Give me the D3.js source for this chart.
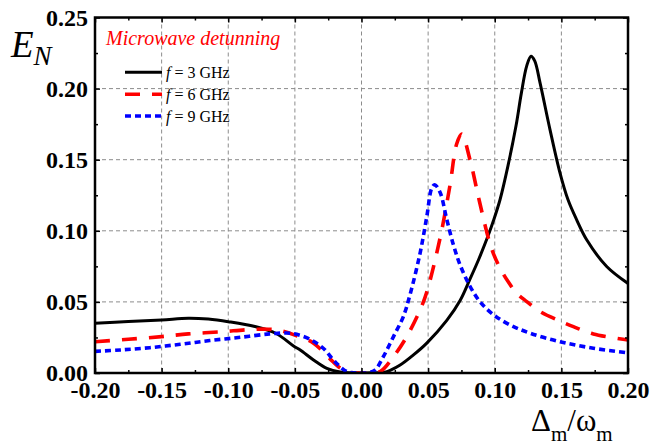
<!DOCTYPE html>
<html>
<head>
<meta charset="utf-8">
<script src="https://cdn.jsdelivr.net/npm/d3@7/dist/d3.min.js"></script>
<style>
  html, body { margin: 0; padding: 0; background: #fff; }
  svg { display: block; }
</style>
</head>
<body>
<svg id="chart" width="663" height="445"></svg>
<script>
// Entanglement E_N versus normalized magnon detuning for three microwave frequencies

const xTickValues = [-0.20, -0.15, -0.10, -0.05, 0.00, 0.05, 0.10, 0.15, 0.20];
const xTickLabels = ["-0.20", "-0.15", "-0.10", "-0.05", "0.00", "0.05", "0.10", "0.15", "0.20"];
const yTickValues = [0.00, 0.05, 0.10, 0.15, 0.20, 0.25];
const yTickLabels = ["0.00", "0.05", "0.10", "0.15", "0.20", "0.25"];
const xMinorTicks = [-0.175, -0.125, -0.075, -0.025, 0.025, 0.075, 0.125, 0.175];
const yMinorTicks = [0.025, 0.075, 0.125, 0.175, 0.225];

const seriesNames = ["f = 3 GHz", "f = 6 GHz", "f = 9 GHz"];

// f = 3 GHz
const x3 = [-0.200, -0.175, -0.150, -0.130, -0.115, -0.100, -0.080, -0.064, -0.051, -0.046, -0.036, -0.026, -0.016, -0.008, 0.000, 0.008, 0.019, 0.029, 0.039, 0.049, 0.064, 0.074, 0.0814, 0.088, 0.0952, 0.099, 0.104, 0.110, 0.116, 0.120, 0.124, 0.1272, 0.130, 0.134, 0.1415, 0.149, 0.155, 0.1615, 0.169, 0.184, 0.200];
const y3 = [0.0350, 0.0362, 0.0373, 0.0385, 0.0379, 0.0361, 0.0327, 0.0278, 0.0190, 0.0162, 0.0092, 0.0033, 0.0007, 0.0001, 0.0000, 0.0001, 0.0010, 0.0056, 0.0127, 0.0210, 0.0370, 0.0510, 0.0660, 0.0800, 0.0970, 0.1070, 0.1220, 0.1460, 0.1740, 0.1970, 0.2160, 0.2228, 0.2195, 0.2040, 0.1710, 0.1406, 0.1218, 0.1077, 0.0937, 0.0749, 0.0630];

// f = 6 GHz
const x6 = [-0.200, -0.175, -0.150, -0.130, -0.105, -0.085, -0.070, -0.061, -0.050, -0.036, -0.024, -0.016, -0.008, 0.000, 0.007, 0.014, 0.024, 0.034, 0.044, 0.049, 0.059, 0.0664, 0.0714, 0.0752, 0.0814, 0.0877, 0.0927, 0.0952, 0.099, 0.104, 0.110, 0.1165, 0.124, 0.134, 0.149, 0.159, 0.174, 0.200];
const y6 = [0.0220, 0.0237, 0.0256, 0.0275, 0.0290, 0.0305, 0.0308, 0.0298, 0.0266, 0.0210, 0.0103, 0.0035, 0.0005, 0.0000, 0.0002, 0.0010, 0.0115, 0.0256, 0.0444, 0.0570, 0.0950, 0.1320, 0.1610, 0.1680, 0.1500, 0.1240, 0.1040, 0.0950, 0.0840, 0.0737, 0.0643, 0.0561, 0.0502, 0.0432, 0.0365, 0.0326, 0.0275, 0.0232];

// f = 9 GHz
const x9 = [-0.200, -0.181, -0.159, -0.136, -0.114, -0.091, -0.069, -0.056, -0.0486, -0.0386, -0.0287, -0.020, -0.011, -0.005, 0.000, 0.005, 0.0101, 0.0164, 0.024, 0.0314, 0.0364, 0.0439, 0.049, 0.0527, 0.055, 0.059, 0.064, 0.069, 0.074, 0.0814, 0.089, 0.099, 0.1115, 0.1265, 0.149, 0.174, 0.200];
const y9 = [0.0152, 0.0162, 0.0178, 0.0202, 0.0228, 0.0251, 0.0275, 0.0281, 0.0272, 0.0237, 0.0174, 0.0080, 0.0010, 0.0001, 0.0000, 0.0002, 0.0020, 0.0115, 0.0256, 0.0397, 0.0550, 0.0840, 0.1100, 0.1300, 0.1324, 0.1270, 0.1080, 0.0900, 0.0760, 0.0610, 0.0500, 0.0410, 0.0338, 0.0280, 0.0220, 0.0174, 0.0142];

const seriesX = [x3, x6, x9];
const seriesY = [y3, y6, y9];
const seriesColor = ["#000000", "#ff0000", "#0000ff"];
const seriesDash = [null, "15,12", "6,4"];
const seriesWidth = [3, 3.6, 3.6];

const W = 663, H = 445;
const margin = { left: 95, right: 35, top: 17.5, bottom: 72 };
const plotW = W - margin.left - margin.right;
const plotH = H - margin.top - margin.bottom;

const svg = d3.select("#chart");
svg.append("rect").attr("width", W).attr("height", H).attr("fill", "#fff");

const x = d3.scaleLinear().domain([-0.2, 0.2]).range([0, plotW]);
const y = d3.scaleLinear().domain([0, 0.25]).range([plotH, 0]);

const g = svg.append("g").attr("transform", `translate(${margin.left},${margin.top})`);

// dashed grid at the major ticks
const grid = g.append("g").attr("stroke", "#8c8c8c").attr("stroke-width", 1).attr("stroke-dasharray", "4,3");
grid.selectAll("line.v").data(xTickValues.slice(1, -1)).join("line")
  .attr("x1", d => x(d)).attr("x2", d => x(d)).attr("y1", 0).attr("y2", plotH);
grid.selectAll("line.h").data(yTickValues.slice(1, -1)).join("line")
  .attr("y1", d => y(d)).attr("y2", d => y(d)).attr("x1", 0).attr("x2", plotW);

// curves
g.append("clipPath").attr("id", "plotclip").append("rect")
  .attr("width", plotW).attr("height", plotH);
const line = d3.line().x(d => x(d[0])).y(d => y(Math.max(0, d[1])))
  .curve(d3.curveCatmullRom.alpha(0.5));
seriesX.forEach((xs, i) => {
  const pts = xs.map((v, k) => [v, seriesY[i][k]]);
  g.append("path")
    .attr("d", line(pts))
    .attr("fill", "none")
    .attr("stroke", seriesColor[i])
    .attr("stroke-width", seriesWidth[i])
    .attr("stroke-dasharray", seriesDash[i])
    .attr("stroke-linejoin", "round")
    .attr("clip-path", "url(#plotclip)");
});

// axes with inward ticks on all four sides
const serif = "'Liberation Serif', 'Times New Roman', serif";
function styleAxis(sel) {
  sel.select(".domain").remove();
  sel.selectAll(".tick line").attr("stroke", "#000").attr("stroke-width", 1.5);
}
const bottom = g.append("g").attr("transform", `translate(0,${plotH})`)
  .call(d3.axisBottom(x).tickValues(xTickValues).tickSize(-5).tickPadding(8)
    .tickFormat((d, i) => xTickLabels[i]));
styleAxis(bottom);
bottom.selectAll("text").attr("font-family", serif).attr("font-weight", "bold")
  .attr("font-size", 24).attr("fill", "#000");
g.append("g").attr("transform", `translate(0,${plotH})`)
  .call(d3.axisBottom(x).tickValues(xMinorTicks).tickSize(-3).tickFormat(""))
  .call(styleAxis);
g.append("g").call(d3.axisTop(x).tickValues(xTickValues).tickSize(-5).tickFormat("")).call(styleAxis);
g.append("g").call(d3.axisTop(x).tickValues(xMinorTicks).tickSize(-3).tickFormat("")).call(styleAxis);

const left = g.append("g")
  .call(d3.axisLeft(y).tickValues(yTickValues).tickSize(-5).tickPadding(7)
    .tickFormat((d, i) => yTickLabels[i]));
styleAxis(left);
left.selectAll("text").attr("font-family", serif).attr("font-weight", "bold")
  .attr("font-size", 24).attr("fill", "#000");
g.append("g").call(d3.axisLeft(y).tickValues(yMinorTicks).tickSize(-3).tickFormat("")).call(styleAxis);
g.append("g").attr("transform", `translate(${plotW},0)`)
  .call(d3.axisRight(y).tickValues(yTickValues).tickSize(-5).tickFormat("")).call(styleAxis);
g.append("g").attr("transform", `translate(${plotW},0)`)
  .call(d3.axisRight(y).tickValues(yMinorTicks).tickSize(-3).tickFormat("")).call(styleAxis);

// frame
g.append("rect").attr("width", plotW).attr("height", plotH)
  .attr("fill", "none").attr("stroke", "#000").attr("stroke-width", 2.5);

// axis titles
const yt = svg.append("text").attr("x", 11).attr("y", 57)
  .attr("font-family", serif).attr("font-style", "italic").attr("fill", "#000");
yt.append("tspan").attr("font-size", 37).text("E");
yt.append("tspan").attr("font-size", 27).attr("dy", 8).text("N");

const xt = svg.append("text").attr("x", 531).attr("y", 431)
  .attr("font-family", serif).attr("fill", "#000");
xt.append("tspan").attr("font-size", 31).text("Δ");
xt.append("tspan").attr("font-size", 21).attr("dy", 10).text("m");
xt.append("tspan").attr("font-size", 31).attr("dy", -10).text("/ω");
xt.append("tspan").attr("font-size", 21).attr("dy", 10).text("m");

// legend
svg.append("text").attr("x", 106).attr("y", 45)
  .attr("font-family", serif).attr("font-style", "italic").attr("font-size", 20)
  .attr("fill", "#ff0000").text("Microwave detunning");

const legendY = [72.3, 94.3, 116];
seriesNames.forEach((name, i) => {
  svg.append("line").attr("x1", 125).attr("x2", 162)
    .attr("y1", legendY[i]).attr("y2", legendY[i])
    .attr("stroke", seriesColor[i]).attr("stroke-width", seriesWidth[i])
    .attr("stroke-dasharray", seriesDash[i]);
  const t = svg.append("text").attr("x", 166).attr("y", legendY[i] + 6)
    .attr("font-family", serif).attr("font-size", 16).attr("fill", "#000");
  t.append("tspan").attr("font-style", "italic").text(name.slice(0, 1));
  t.append("tspan").text(name.slice(1));
});
</script>
</body>
</html>
